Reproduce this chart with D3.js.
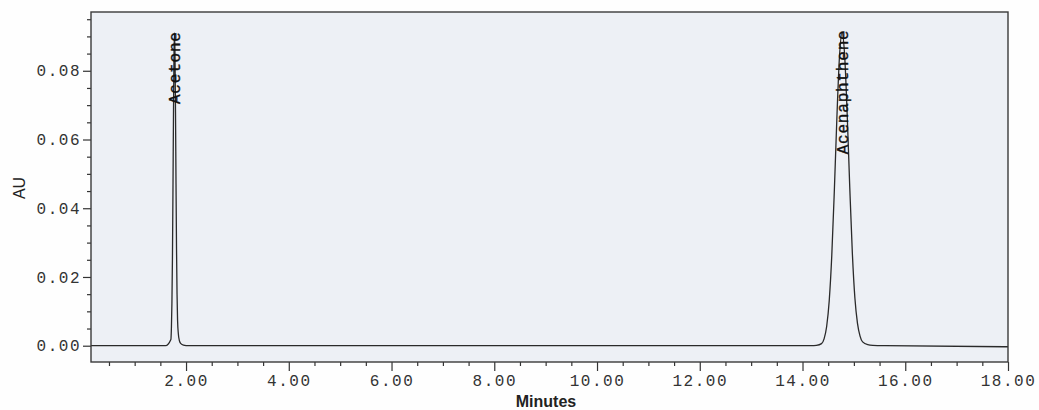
<!DOCTYPE html>
<html lang="en">
<head>
    <meta charset="UTF-8">
    <title>Chromatogram</title>
    <style>
        body { margin: 0; background: #fefefe; }
        .tick text { font-family: "Liberation Mono", "DejaVu Sans Mono", monospace; font-size: 16px; letter-spacing: 1.5px; fill: #333; }
        .tick line { stroke: #333; stroke-width: 1.2; }
    </style>
</head>
<body>
    <svg width="1039" height="410" id="svg"></svg>
    <script src="https://d3js.org/d3.v7.min.js"></script>
    <script>
        // trace: time (min) and absorbance (AU)
        let times = [0.15, 1.60, 1.705, 1.715, 1.725, 1.735, 1.745, 1.755, 1.765, 1.775, 1.785, 1.795, 1.805, 1.815,
                     1.825, 1.835, 1.85, 1.87, 1.90, 1.95, 2.05, 8.0, 14.17, 14.27, 14.37, 14.42, 14.47, 14.52, 14.57,
                     14.62, 14.67, 14.72, 14.77, 14.82, 14.87, 14.92, 14.97, 15.02, 15.07, 15.12, 15.17, 15.27, 15.37, 15.6, 18.0]
        let au    = [0.0000, 0.0000, 0.0018, 0.0051, 0.0123, 0.0250, 0.0440, 0.0660, 0.0840, 0.0910, 0.0850, 0.0680, 0.0470, 0.0280,
                     0.0150, 0.0075, 0.0035, 0.0015, 0.0006, 0.0002, 0.0000, 0.0000, 0.0000, 0.0001, 0.0006, 0.0020, 0.0056, 0.0131, 0.0263,
                     0.0453, 0.0667, 0.0842, 0.0910, 0.0845, 0.0672, 0.0460, 0.0270, 0.0138, 0.0065, 0.0028, 0.0011, 0.0003, 0.0001, 0.0000, -0.0003]

        // peak labels
        let peakNames = ["Acetone", "Acenaphthene"]
        let peakTimes = [1.775, 14.77]
        let peakHeights = [0.0915, 0.0920]

        // axis ticks
        let xTicks = [2, 4, 6, 8, 10, 12, 14, 16, 18]
        let xMinorTicks = d3.range(0.5, 18, 0.5).filter(function (t) { return t % 2 != 0 })
        let yTicks = [0, 0.02, 0.04, 0.06, 0.08]
        let yMinorTicks = [0.005, 0.01, 0.015, 0.025, 0.03, 0.035, 0.045, 0.05, 0.055, 0.065, 0.07, 0.075, 0.085, 0.09, 0.095]

        var svg = d3.select("svg"),
            marginLeft = 91, marginTop = 12,
            width = 917, height = 350

        var x = d3.scaleLinear().domain([0.15, 18]).range([0, width])
        var y = d3.scaleLinear().domain([-0.00474, 0.0971]).range([height, 0])

        var g = svg.append("g").attr("transform", "translate(" + marginLeft + "," + marginTop + ")")

        // plot background
        g.append("rect")
            .attr("width", width).attr("height", height)
            .attr("fill", "#edf0f5")

        // x axis, major + minor ticks
        g.append("g")
            .attr("transform", "translate(0," + height + ")")
            .call(d3.axisBottom(x).tickValues(xTicks).tickSize(9).tickPadding(4).tickFormat(d3.format(".2f")))
            .call(function (a) { a.select(".domain").remove() })
        g.append("g")
            .attr("transform", "translate(0," + height + ")")
            .call(d3.axisBottom(x).tickValues(xMinorTicks).tickSize(4).tickFormat(""))
            .call(function (a) { a.select(".domain").remove() })

        // y axis, major + minor ticks
        g.append("g")
            .call(d3.axisLeft(y).tickValues(yTicks).tickSize(8).tickPadding(2).tickFormat(d3.format(".2f")))
            .call(function (a) { a.select(".domain").remove() })
        g.append("g")
            .call(d3.axisLeft(y).tickValues(yMinorTicks).tickSize(4).tickFormat(""))
            .call(function (a) { a.select(".domain").remove() })

        // the trace
        var pts = times.map(function (t, i) { return [t, au[i]] })
        g.append("path")
            .datum(pts)
            .attr("fill", "none")
            .attr("stroke", "#2a2a2a")
            .attr("stroke-width", 1.3)
            .attr("d", d3.line()
                .x(function (d) { return x(d[0]) })
                .y(function (d) { return y(d[1]) })
                .curve(d3.curveMonotoneX))

        // peak names, written upward, ending at the apex
        g.selectAll(".peak")
            .data(peakNames)
            .enter()
            .append("text")
            .attr("class", "peak")
            .attr("transform", function (d, i) {
                return "translate(" + x(peakTimes[i]) + "," + y(peakHeights[i]) + ") rotate(-90)"
            })
            .attr("text-anchor", "end")
            .attr("dy", "0.35em")
            .attr("font-family", "Liberation Mono, monospace")
            .attr("font-size", 16)
            .attr("letter-spacing", 0.8)
            .attr("fill", "#111")
            .attr("stroke", "#111")
            .attr("stroke-width", 0.35)
            .text(function (d) { return d })

        // frame
        g.append("rect")
            .attr("width", width).attr("height", height)
            .attr("fill", "none")
            .attr("stroke", "#3a3a3a")
            .attr("stroke-width", 1.4)

        // axis titles
        svg.append("text")
            .attr("x", 546).attr("y", 407)
            .attr("text-anchor", "middle")
            .attr("font-family", "Liberation Sans, Arial, sans-serif")
            .attr("font-weight", "bold")
            .attr("font-size", 16)
            .attr("fill", "#222")
            .text("Minutes")

        svg.append("text")
            .attr("transform", "translate(25,188) rotate(-90)")
            .attr("text-anchor", "middle")
            .attr("font-family", "Liberation Sans, Arial, sans-serif")
            .attr("font-size", 16)
            .attr("fill", "#222")
            .text("AU")
    </script>
</body>
</html>
